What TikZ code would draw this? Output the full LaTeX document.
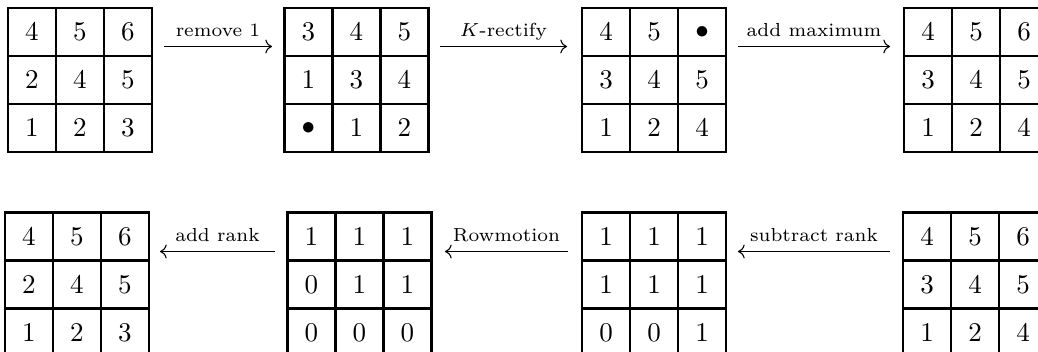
\documentclass[tikz,border=0pt]{standalone}
\usetikzlibrary{arrows.meta}
\tikzset{
  gridline/.style={line width=0.75pt},
  cell/.style={inner sep=0pt},
  arr/.style={line width=0.4pt,-{Computer Modern Rightarrow}},
  lbl/.style={font=\scriptsize, anchor=base, yshift=3.7pt, inner sep=0pt}
}
\newcommand\mygrid[4]{%
  \draw[gridline] (#2,#3) rectangle ++(144,144);
  \draw[gridline] (#2+48,#3) -- ++(0,144) (#2+96,#3) -- ++(0,144)
                  (#2,#3+48) -- ++(144,0) (#2,#3+96) -- ++(144,0);
  \foreach \v [count=\i from 0] in {#4} {
    \pgfmathtruncatemacro\rr{floor(\i/3)}
    \pgfmathtruncatemacro\cc{mod(\i,3)}
    \node[cell] (#1-\rr-\cc) at (#2+24+48*\cc, #3+24+48*\rr) {$\v$};
  }
}
\begin{document}
\begin{tikzpicture}[x=0.37pt,y=-0.37pt]
\clip (0,0) rectangle (1038,352);
% top row
\mygrid{ta}{8}{8}{4,5,6,2,4,5,1,2,3}
\mygrid{tb}{284.5}{8}{3,4,5,1,3,4,\bullet,1,2}
\mygrid{tc}{582}{8}{4,5,\bullet,3,4,5,1,2,4}
\mygrid{td}{904}{8}{4,5,6,3,4,5,1,2,4}
% bottom row
\mygrid{ba}{5}{212.5}{4,5,6,2,4,5,1,2,3}
\mygrid{bb}{287.5}{212.5}{1,1,1,0,1,1,0,0,0}
\mygrid{bc}{582}{212.5}{1,1,1,1,1,1,0,0,1}
\mygrid{bd}{903}{212.5}{4,5,6,3,4,5,1,2,4}
% arrow end points
\coordinate (a1s) at (164,46.5);  \coordinate (a1e) at (272,46.5);
\coordinate (a2s) at (440,46.5);  \coordinate (a2e) at (567,46.5);
\coordinate (a3s) at (738,46.5);  \coordinate (a3e) at (890,46.5);
\coordinate (b1s) at (275,251.5); \coordinate (b1e) at (160,251.5);
\coordinate (b2s) at (568,251.5); \coordinate (b2e) at (445,251.5);
\coordinate (b3s) at (890,251.5); \coordinate (b3e) at (738,251.5);
\draw[arr] (a1s) -- node[lbl] (l1) {remove 1} (a1e);
\draw[arr] (a2s) -- node[lbl] (l2) {$K$-rectify} (a2e);
\draw[arr] (a3s) -- node[lbl] (l3) {add maximum} (a3e);
\draw[arr] (b1s) -- node[lbl] (l4) {add rank} (b1e);
\draw[arr] (b2s) -- node[lbl] (l5) {Rowmotion} (b2e);
\draw[arr] (b3s) -- node[lbl] (l6) {subtract rank} (b3e);
\end{tikzpicture}
\end{document}
